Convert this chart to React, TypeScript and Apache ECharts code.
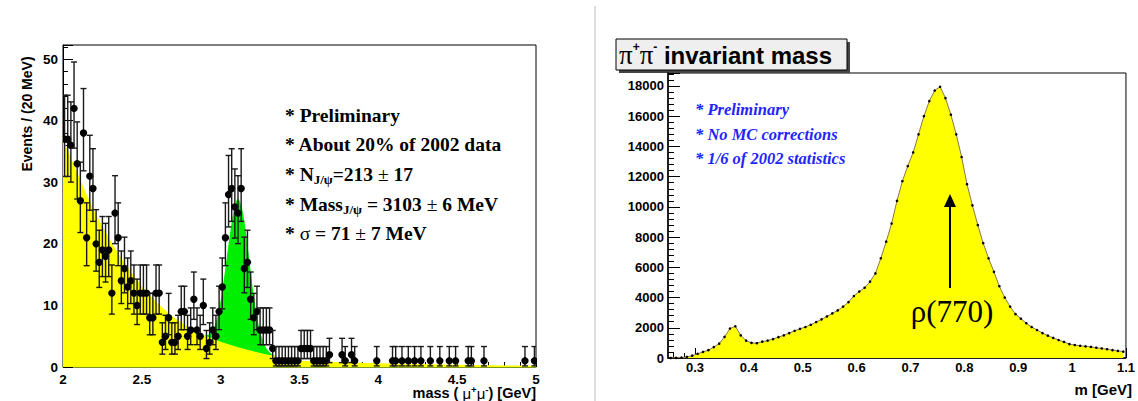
import React, { useEffect, useRef } from "react";
import * as echarts from "echarts";

// ---------- Left panel: mu+mu- mass, 20 MeV bins from 2.0 to 5.0 GeV ----------
const JPSI_BIN_START = 2.0;
const JPSI_BIN_WIDTH = 0.02;
const JPSI_COUNTS = [
  37, 37, 36, 42, 33, 27, 38, 21, 31, 29,
  20, 17, 19, 18, 19, 12, 25, 21, 14, 16,
  13, 14, 12, 10, 12, 12, 12, 8, 8, 12,
  12, 4, 5, 8, 4, 4, 5, 9, 9, 5,
  6, 11, 6, 5, 10, 3, 4, 6, 5, 9,
  13, 21, 28, 29, 26, 25, 29, 16, 17, 11,
  8, 9, 6, 6, 6, 6, 3, 1, 1, 1,
  1, 1, 1, 1, 1, 3, 3, 3, 3, 1,
  1, 1, 1, 1, 2, 0, 0, 0, 2, 1,
  0, 2, 1, 0, 0, 0, 0, 0, 0, 1,
  0, 0, 0, 0, 1, 1, 0, 1, 0, 1,
  0, 1, 0, 1, 0, 0, 1, 0, 0, 1,
  0, 0, 1, 0, 1, 0, 0, 0, 1, 1,
  0, 0, 0, 1, 0, 0, 0, 0, 0, 0,
  0, 0, 0, 0, 0, 0, 1, 0, 0, 1,
];

// background fit (yellow)
const BKG_CURVE: [number, number][] = [
  [2.0, 37], [2.05, 34], [2.1, 31], [2.15, 28], [2.2, 25.2], [2.3, 20.5],
  [2.4, 16.5], [2.5, 13.1], [2.6, 10.3], [2.7, 8.1], [2.8, 6.4], [2.9, 5.1],
  [3.0, 4.1], [3.1, 3.3], [3.2, 2.6], [3.3, 2.0], [3.34, 1.85], [3.36, 1.2],
  [3.5, 1.0], [3.7, 0.85], [4.0, 0.6], [4.5, 0.35], [5.0, 0.2],
];

// signal + background (green)
const SIG_CURVE: [number, number][] = [
  [2.9, 5.1], [2.93, 5.3], [2.96, 6.5], [2.98, 8.2], [3.0, 10.8], [3.02, 14.2],
  [3.04, 18.0], [3.06, 21.8], [3.08, 25.0], [3.1, 27.0], [3.11, 27.3], [3.12, 27.0],
  [3.14, 25.2], [3.16, 22.0], [3.18, 17.8], [3.2, 13.5], [3.22, 9.8], [3.24, 6.9],
  [3.26, 4.9], [3.28, 3.5], [3.3, 2.7], [3.32, 2.2], [3.34, 1.9], [3.35, 1.2],
];

// ---------- Right panel: pi+pi- invariant mass, 10 MeV bins from 0.25 to 1.10 GeV ----------
const PIPI_BIN_START = 0.25;
const PIPI_BIN_WIDTH = 0.01;
const PIPI_COUNTS = [
  0, 10, 30, 70, 150, 280, 400, 520, 720, 950,
  1400, 1950, 2100, 1500, 1150, 1000, 980, 1080, 1150, 1250,
  1380, 1500, 1650, 1800, 1930, 2050, 2200, 2380, 2560, 2750,
  2950, 3150, 3400, 3700, 4100, 4400, 4650, 5050, 5600, 6600,
  7700, 8900, 10400, 11700, 12700, 13600, 14800, 16000, 17000, 17700,
  17950, 17200, 16100, 14800, 13300, 11500, 10100, 8800, 7600, 6600,
  5700, 4750, 4000, 3400, 2900, 2600, 2300, 2050, 1850, 1650,
  1480, 1330, 1190, 1060, 920, 860, 810, 770, 730, 680,
  630, 580, 520, 470, 420,
];

const PIPI_X_TICKS = [0.3, 0.4, 0.5, 0.6, 0.7, 0.8, 0.9, 1.0, 1.1];
const PIPI_X_MINOR_TICKS = [
  0.26, 0.28, 0.32, 0.34, 0.36, 0.38, 0.42, 0.44, 0.46, 0.48, 0.52, 0.54, 0.56, 0.58,
  0.62, 0.64, 0.66, 0.68, 0.72, 0.74, 0.76, 0.78, 0.82, 0.84, 0.86, 0.88, 0.92, 0.94,
  0.96, 0.98, 1.02, 1.04, 1.06, 1.08,
];

const SANS = "'Liberation Sans', Arial, Helvetica, sans-serif";
const SERIF = "'Liberation Serif', 'Times New Roman', serif";

// Poisson (Gehrels) interval for a count
function poissonInterval(n: number): [number, number] {
  const hi = n + 1 + Math.sqrt(n + 0.75);
  const lo = n > 0 ? n * Math.pow(1 - 1 / (9 * n) - 1 / (3 * Math.sqrt(n)), 3) : 0;
  return [lo, hi];
}

export default function App() {
  const ref = useRef<HTMLDivElement>(null);

  useEffect(() => {
    if (!ref.current) return;
    const chart = echarts.init(ref.current, undefined, { renderer: "svg" });

    const jpsiPoints = JPSI_COUNTS.map((n, i) => {
      const x = JPSI_BIN_START + JPSI_BIN_WIDTH * (i + 0.5);
      const [lo, hi] = poissonInterval(n);
      return [x, n, lo, hi];
    }).filter((d) => d[1] > 0);

    const pipiData = PIPI_COUNTS.map((n, i) => [
      PIPI_BIN_START + PIPI_BIN_WIDTH * (i + 0.5),
      n,
    ]);

    const axisLabelStyle = {
      color: "#000",
      fontFamily: SANS,
      fontWeight: "bold" as const,
      fontSize: 13,
    };

    const mainB = { fontFamily: SERIF, fontWeight: "bold", fontSize: 19.5, lineHeight: 24, fill: "#000" };
    const subB = { fontFamily: SERIF, fontWeight: "bold", fontSize: 13, lineHeight: 9, verticalAlign: "bottom", fill: "#000" };
    const pmN = { fontFamily: SERIF, fontWeight: "normal", fontSize: 19.5, lineHeight: 24, fill: "#000" };

    const leftNote = (y: number, text: string) => ({
      type: "text",
      silent: true,
      x: 285,
      y,
      style: {
        text,
        x: 0,
        y: 0,
        fill: "#000",
        font: `bold 19.5px ${SERIF}`,
        align: "left",
        verticalAlign: "middle",
        textAlign: "left",
        textVerticalAlign: "middle",
        rich: { b: mainB, s: subB, p: pmN },
      },
    });

    const blueNote = (y: number, text: string) => ({
      type: "text",
      silent: true,
      x: 695,
      y,
      style: {
        text,
        x: 0,
        y: 0,
        fill: "#2424ff",
        fontFamily: SERIF,
        fontWeight: "bold",
        fontStyle: "italic",
        fontSize: 16.5,
        align: "left",
        verticalAlign: "middle",
        textAlign: "left",
        textVerticalAlign: "middle",
      },
    });

    const option: any = {
      animation: false,
      backgroundColor: "#fff",
      grid: [
        { left: 63, right: 1138 - 536, top: 45, bottom: 401 - 367, show: true, borderColor: "#000", borderWidth: 1, backgroundColor: "transparent" },
        { left: 668, right: 1138 - 1132, top: 73, bottom: 401 - 358, show: true, borderColor: "#000", borderWidth: 1, backgroundColor: "transparent" },
      ],
      xAxis: [
        {
          gridIndex: 0,
          type: "value",
          min: 2,
          max: 5,
          interval: 0.5,
          axisLine: { show: true, lineStyle: { color: "#7ca000", width: 1.5 } },
          axisTick: { show: true, inside: true, length: 9, lineStyle: { color: "#000" } },
          minorTick: { show: true, splitNumber: 5, length: 5, lineStyle: { color: "#000" } },
          splitLine: { show: false },
          axisLabel: { ...axisLabelStyle, fontSize: 13.5, margin: 5, formatter: (v: number) => String(v) },
        },
        {
          gridIndex: 1,
          type: "value",
          min: 0.25,
          max: 1.1,
          position: "bottom",
          axisLine: { show: true, lineStyle: { color: "#000", width: 1.5 } },
          axisTick: { show: true, inside: true, length: 10, customValues: PIPI_X_TICKS, lineStyle: { color: "#000" } },
          splitLine: { show: false },
          axisLabel: { ...axisLabelStyle, margin: 3, customValues: PIPI_X_TICKS, formatter: (v: number) => String(v) },
        },
        {
          gridIndex: 1,
          type: "value",
          min: 0.25,
          max: 1.1,
          position: "bottom",
          axisLine: { show: false },
          axisTick: { show: true, inside: true, length: 5, customValues: PIPI_X_MINOR_TICKS, lineStyle: { color: "#000" } },
          splitLine: { show: false },
          axisLabel: { show: false },
        },
      ],
      yAxis: [
        {
          gridIndex: 0,
          type: "value",
          min: 0,
          max: 52.3,
          interval: 10,
          axisLine: { show: true, lineStyle: { color: "#000", width: 1 } },
          axisTick: { show: true, inside: true, length: 10, lineStyle: { color: "#000" } },
          minorTick: { show: true, splitNumber: 5, length: 5, lineStyle: { color: "#000" } },
          splitLine: { show: false },
          axisLabel: { ...axisLabelStyle, fontSize: 13.5, margin: 5, showMaxLabel: false, formatter: (v: number) => String(v) },
        },
        {
          gridIndex: 1,
          type: "value",
          min: 0,
          max: 18860,
          interval: 2000,
          axisLine: { show: true, lineStyle: { color: "#000", width: 1.5 } },
          axisTick: { show: true, inside: true, length: 12, lineStyle: { color: "#000" } },
          minorTick: { show: true, splitNumber: 5, length: 6, lineStyle: { color: "#000" } },
          splitLine: { show: false },
          axisLabel: { ...axisLabelStyle, margin: 4, showMaxLabel: false, formatter: (v: number) => String(v) },
        },
      ],
      series: [
        {
          type: "line",
          xAxisIndex: 0,
          yAxisIndex: 0,
          data: SIG_CURVE,
          symbol: "none",
          smooth: 0.3,
          lineStyle: { width: 0 },
          areaStyle: { color: "#00ee00", opacity: 1 },
          z: 1,
          silent: true,
        },
        {
          type: "line",
          xAxisIndex: 0,
          yAxisIndex: 0,
          data: BKG_CURVE,
          symbol: "none",
          lineStyle: { width: 0 },
          areaStyle: { color: "#ffff00", opacity: 1 },
          z: 2,
          silent: true,
        },
        {
          type: "custom",
          xAxisIndex: 0,
          yAxisIndex: 0,
          data: jpsiPoints,
          clip: true,
          z: 3,
          silent: true,
          renderItem: (params: any, api: any) => {
            const x = api.value(0);
            const y = api.value(1);
            const lo = api.value(2);
            const hi = api.value(3);
            const p = api.coord([x, y]);
            const pl = api.coord([x, lo]);
            const ph = api.coord([x, hi]);
            const st = { stroke: "#1a1a1a", lineWidth: 1.4 };
            return {
              type: "group",
              children: [
                { type: "line", shape: { x1: p[0], y1: pl[1], x2: p[0], y2: ph[1] }, style: st },
                { type: "line", shape: { x1: p[0] - 3, y1: ph[1], x2: p[0] + 3, y2: ph[1] }, style: st },
                { type: "line", shape: { x1: p[0] - 3, y1: pl[1], x2: p[0] + 3, y2: pl[1] }, style: st },
                { type: "circle", shape: { cx: p[0], cy: p[1], r: 3.7 }, style: { fill: "#000" } },
              ],
            };
          },
        },
        {
          type: "line",
          xAxisIndex: 1,
          yAxisIndex: 1,
          data: pipiData,
          symbol: "circle",
          symbolSize: 2.6,
          showSymbol: true,
          showAllSymbol: true,
          itemStyle: { color: "#000" },
          lineStyle: { color: "#8a7650", width: 1 },
          areaStyle: { color: "#ffff00", opacity: 1 },
          z: 2,
          silent: true,
        },
      ],
      graphic: [
        // separator between the two panels
        { type: "line", silent: true, shape: { x1: 595, y1: 6, x2: 595, y2: 401 }, style: { stroke: "#d2d2d2", lineWidth: 1.5 } },
        // left y axis title
        {
          type: "text",
          silent: true,
          x: 27,
          y: 114,
          rotation: Math.PI / 2,
          style: {
            text: "Events / (20 MeV)",
            x: 0,
            y: 0,
            fill: "#000",
            font: `bold 14px ${SANS}`,
            align: "center",
            verticalAlign: "middle",
            textAlign: "center",
            textVerticalAlign: "middle",
          },
        },
        // left x axis title
        {
          type: "text",
          silent: true,
          x: 536,
          y: 393,
          style: {
            text: "{b|mass ( }{m|μ}{u|+}{m|μ}{u|-}{b|) [GeV]}",
            x: 0,
            y: 0,
            fill: "#000",
            font: `bold 14.5px ${SANS}`,
            align: "right",
            verticalAlign: "middle",
            textAlign: "right",
            textVerticalAlign: "middle",
            rich: {
              b: { fontFamily: SANS, fontWeight: "bold", fontSize: 14.5, lineHeight: 17, fill: "#000" },
              m: { fontFamily: SANS, fontWeight: "normal", fontSize: 15, lineHeight: 17, fill: "#000" },
              u: { fontFamily: SANS, fontWeight: "bold", fontSize: 9.5, lineHeight: 8, verticalAlign: "top", fill: "#000" },
            },
          },
        },
        leftNote(115, "{b|* Preliminary}"),
        leftNote(144, "{b|* About 20% of 2002 data}"),
        leftNote(174, "{b|* N}{s|J/ψ}{b|=213 }{p|±}{b| 17}"),
        leftNote(204, "{b|* Mass}{s|J/ψ}{b| = 3103 }{p|±}{b| 6 MeV}"),
        leftNote(233, "{b|* }{p|σ}{b| = 71 }{p|±}{b| 7 MeV}"),
        // right title box with shadow
        { type: "rect", silent: true, shape: { x: 619, y: 42, width: 231, height: 31 }, style: { fill: "#444" } },
        { type: "rect", silent: true, shape: { x: 616, y: 39, width: 231, height: 31 }, style: { fill: "#efefef", stroke: "#000", lineWidth: 1 } },
        {
          type: "text",
          silent: true,
          x: 619,
          y: 55,
          style: {
            text: "{p|π}{u|+}{p|π}{u|-}{b| invariant mass}",
            x: 0,
            y: 0,
            fill: "#000",
            font: `bold 24px ${SANS}`,
            align: "left",
            verticalAlign: "middle",
            textAlign: "left",
            textVerticalAlign: "middle",
            rich: {
              p: { fontFamily: SERIF, fontWeight: "normal", fontSize: 27, lineHeight: 28, fill: "#000" },
              u: { fontFamily: SANS, fontWeight: "bold", fontSize: 12, lineHeight: 12, verticalAlign: "top", fill: "#000" },
              b: { fontFamily: SANS, fontWeight: "bold", fontSize: 24, lineHeight: 28, fill: "#000" },
            },
          },
        },
        blueNote(109, "* Preliminary"),
        blueNote(134, "* No MC corrections"),
        blueNote(158, "* 1/6 of 2002 statistics"),
        // right x axis title
        {
          type: "text",
          silent: true,
          x: 1132,
          y: 389,
          style: {
            text: "m [GeV]",
            x: 0,
            y: 0,
            fill: "#000",
            font: `bold 15px ${SANS}`,
            align: "right",
            verticalAlign: "middle",
            textAlign: "right",
            textVerticalAlign: "middle",
          },
        },
        // arrow and rho label
        { type: "line", silent: true, z: 10, shape: { x1: 950, y1: 288, x2: 950, y2: 204 }, style: { stroke: "#000", lineWidth: 2 } },
        { type: "polygon", silent: true, z: 10, shape: { points: [[944, 207], [956, 207], [950, 194]] }, style: { fill: "#000" } },
        {
          type: "text",
          silent: true,
          z: 10,
          x: 952,
          y: 311,
          style: {
            text: "ρ(770)",
            x: 0,
            y: 0,
            fill: "#000",
            font: `normal 31px ${SERIF}`,
            align: "center",
            verticalAlign: "middle",
            textAlign: "center",
            textVerticalAlign: "middle",
          },
        },
      ],
    };

    chart.setOption(option);
    return () => chart.dispose();
  }, []);

  return (
    <div
      ref={ref}
      style={{ position: "absolute", left: 0, top: 0, width: 1138, height: 401, background: "#fff" }}
    />
  );
}
